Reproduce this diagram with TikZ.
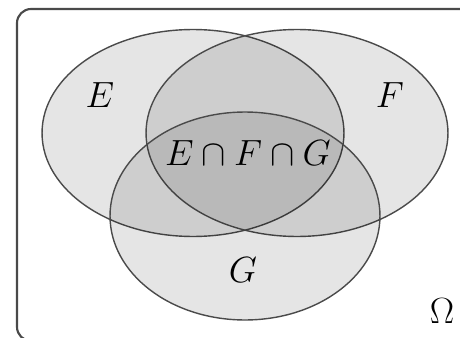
\documentclass[tikz,border=0pt]{standalone}
\usetikzlibrary{shapes.geometric}
\definecolor{setline}{HTML}{4A4A4A}

\begin{document}
\begin{tikzpicture}[
    x=0.02cm, y=-0.02cm,
    setshape/.style={ellipse, draw=setline, line width=0.8pt, fill=black, fill opacity=0.1, inner sep=0pt},
    setlabel/.style={font=\huge, inner sep=0pt}
  ]
    \useasboundingbox (0,0) rectangle (460,338);
    \draw[draw=setline, line width=1.2pt, rounded corners=8pt] (17,9) rectangle (478,341);

    \node[setshape, minimum width=6.04cm, minimum height=4.14cm] (setE) at (193,133) {};
    \node[setshape, minimum width=6.04cm, minimum height=4.14cm] (setF) at (297,133) {};
    \node[setshape, minimum width=5.4cm, minimum height=4.16cm] (setG) at (245,216) {};

    \node[setlabel] (labE) at (100,95) {$E$};
    \node[setlabel] (labF) at (390,95) {$F$};
    \node[setlabel] (labEFG) at (248,153) {$E\cap F\cap G$};
    \node[setlabel] (labG) at (243,270) {$G$};
    \node[setlabel] (labOmega) at (442,311) {$\Omega$};

  \end{tikzpicture}
\end{document}
